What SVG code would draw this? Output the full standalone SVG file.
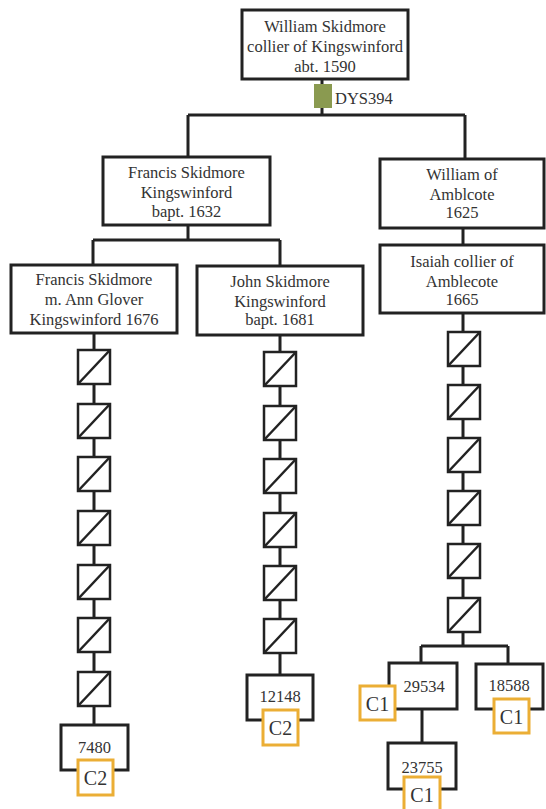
<svg xmlns="http://www.w3.org/2000/svg" width="546" height="809" viewBox="0 0 546 809">
  <style>
    .box { fill: #fff; stroke: #222; stroke-width: 3; }
    .link { fill: none; stroke: #222; stroke-width: 3; }
    .gen { fill: #fff; stroke: #222; stroke-width: 2.5; }
    .diag { stroke: #222; stroke-width: 2.5; }
    .tag { fill: #fff; stroke: #EBAE35; stroke-width: 3; }
    text { font-family: "Liberation Serif", "DejaVu Serif", serif; fill: #333; text-anchor: middle; }
    .name { font-size: 16.5px; }
    .kit { font-size: 16.5px; }
    .hap { font-size: 20px; }
  </style>
  <defs>
    <g id="gen-step">
      <rect class="gen" x="-16" y="0" width="32" height="34"/>
      <line class="diag" x1="-16" y1="34" x2="16" y2="0"/>
    </g>
  </defs>

  <!-- connectors -->
  <g id="connectors">
    <path class="link" d="M322 79 V115 M188 115 H465 M188 115 V157 M465 115 V159"/>
    <path class="link" d="M188 225 V240 M93 240 H280 M93 240 V265 M280 240 V266"/>
    <path class="link" d="M463 228 V245"/>
    <path class="link" d="M94 333 V725"/>
    <path class="link" d="M280 335 V675"/>
    <path class="link" d="M463 313 V646 M421 646 H508 M421 646 V663 M508 646 V664"/>
    <path class="link" d="M422 709 V743"/>
  </g>

  <g id="william-skidmore">
    <rect class="box" x="242" y="10" width="166" height="69"/>
    <text class="name" x="325" y="32">William Skidmore</text>
    <text class="name" x="325" y="52">collier of Kingswinford</text>
    <text class="name" x="325" y="72">abt. 1590</text>
  </g>

  <g id="marker-dys394">
    <rect x="314" y="84" width="18" height="24" fill="#8A9A50"/>
    <text x="335" y="104" style="font-size:16.5px;text-anchor:start">DYS394</text>
  </g>

  <g id="francis-1632">
    <rect class="box" x="103" y="157" width="167" height="68"/>
    <text class="name" x="186.5" y="178">Francis Skidmore</text>
    <text class="name" x="186.5" y="198">Kingswinford</text>
    <text class="name" x="186.5" y="217">bapt. 1632</text>
  </g>

  <g id="william-amblcote">
    <rect class="box" x="380" y="159" width="164" height="69"/>
    <text class="name" x="462" y="180">William of</text>
    <text class="name" x="462" y="200">Amblcote</text>
    <text class="name" x="462" y="218">1625</text>
  </g>

  <g id="isaiah">
    <rect class="box" x="380" y="245" width="164" height="68"/>
    <text class="name" x="462" y="267">Isaiah collier of</text>
    <text class="name" x="462" y="287">Amblecote</text>
    <text class="name" x="462" y="305">1665</text>
  </g>

  <g id="francis-1676">
    <rect class="box" x="11" y="265" width="166" height="68"/>
    <text class="name" x="94" y="285">Francis Skidmore</text>
    <text class="name" x="94" y="305">m. Ann Glover</text>
    <text class="name" x="94" y="325">Kingswinford 1676</text>
  </g>

  <g id="john-1681">
    <rect class="box" x="197" y="266" width="166" height="69"/>
    <text class="name" x="280" y="287">John Skidmore</text>
    <text class="name" x="280" y="307">Kingswinford</text>
    <text class="name" x="280" y="325">bapt. 1681</text>
  </g>

  <!-- unknown generations -->
  <g id="gens-left">
    <use href="#gen-step" x="94" y="350"/>
    <use href="#gen-step" x="94" y="404"/>
    <use href="#gen-step" x="94" y="457"/>
    <use href="#gen-step" x="94" y="511"/>
    <use href="#gen-step" x="94" y="565"/>
    <use href="#gen-step" x="94" y="618"/>
    <use href="#gen-step" x="94" y="672"/>
  </g>
  <g id="gens-middle">
    <use href="#gen-step" x="280" y="352"/>
    <use href="#gen-step" x="280" y="406"/>
    <use href="#gen-step" x="280" y="459"/>
    <use href="#gen-step" x="280" y="513"/>
    <use href="#gen-step" x="280" y="566"/>
    <use href="#gen-step" x="280" y="619"/>
  </g>
  <g id="gens-right">
    <use href="#gen-step" x="464" y="332"/>
    <use href="#gen-step" x="464" y="385"/>
    <use href="#gen-step" x="464" y="438"/>
    <use href="#gen-step" x="464" y="491"/>
    <use href="#gen-step" x="464" y="544"/>
    <use href="#gen-step" x="464" y="598"/>
  </g>

  <g id="kit-7480">
    <rect class="box" x="61" y="725" width="67" height="45"/>
    <text class="kit" x="94.5" y="753">7480</text>
    <rect class="tag" x="78" y="760" width="35" height="35"/>
    <text class="hap" x="95.5" y="785">C2</text>
  </g>

  <g id="kit-12148">
    <rect class="box" x="247" y="675" width="66" height="45"/>
    <text class="kit" x="280" y="702">12148</text>
    <rect class="tag" x="263" y="710" width="35" height="35"/>
    <text class="hap" x="280.5" y="735">C2</text>
  </g>

  <g id="kit-29534">
    <rect class="box" x="389" y="663" width="68" height="46"/>
    <text class="kit" x="424" y="692">29534</text>
    <rect class="tag" x="360" y="686" width="35" height="34"/>
    <text class="hap" x="377.5" y="711">C1</text>
  </g>

  <g id="kit-18588">
    <rect class="box" x="476" y="664" width="67" height="45"/>
    <text class="kit" x="509" y="691">18588</text>
    <rect class="tag" x="494" y="699" width="35" height="34"/>
    <text class="hap" x="511.5" y="724">C1</text>
  </g>

  <g id="kit-23755">
    <rect class="box" x="388" y="743" width="68" height="46"/>
    <text class="kit" x="422" y="773">23755</text>
    <rect class="tag" x="404" y="777" width="36" height="36"/>
    <text class="hap" x="422" y="802">C1</text>
  </g>
</svg>
